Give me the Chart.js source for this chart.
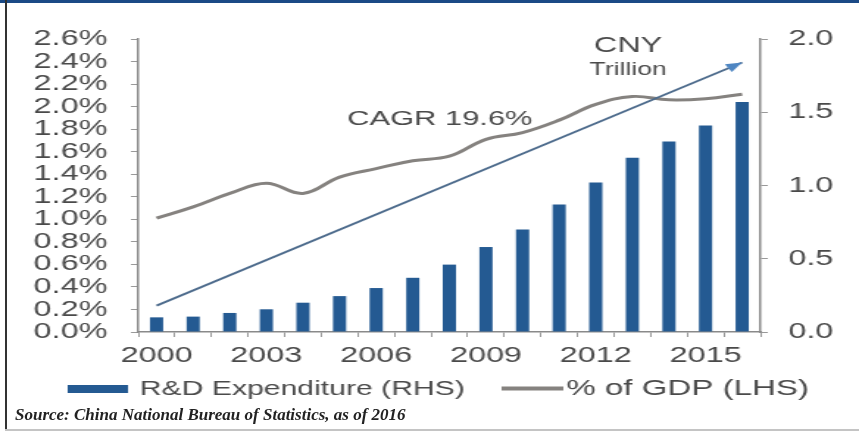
<!DOCTYPE html>
<html>
<head>
<meta charset="utf-8">
<script src="https://cdn.jsdelivr.net/npm/chart.js@4.4.0/dist/chart.umd.min.js"></script>
<style>
  html, body { margin: 0; padding: 0; background: #fff; width: 859px; height: 432px; overflow: hidden; }
  /* the source picture is stretched sideways, so the chart is drawn narrow and scaled */
  #wrap { position: absolute; left: 0; top: 0; width: 584px; height: 432px; transform: scaleX(1.4709); transform-origin: 0 0; }
  .band { position: absolute; left: 0; top: 0; width: 859px; height: 3px; background: #1b4a86; }
  .lborder { position: absolute; left: 5px; top: 0; width: 2px; height: 431px; background: #333; }
  .bborder { position: absolute; left: 5px; top: 429px; width: 854px; height: 2px; background: #c4c4c4; }
  #source { position: absolute; left: 15px; top: 406px; font: italic bold 17px/17px "Liberation Serif", "Times New Roman", serif; color: #222; white-space: nowrap; }
</style>
</head>
<body>
<div id="wrap"><canvas id="chart" width="584" height="432"></canvas></div>
<div class="band"></div>
<div class="lborder"></div>
<div class="bborder"></div>
<div id="source">Source: China National Bureau of Statistics, as of 2016</div>
<script>
const years     = ["2000","2001","2002","2003","2004","2005","2006","2007","2008","2009","2010","2011","2012","2013","2014","2015","2016"];
const rdSpend   = [0.10, 0.105, 0.13, 0.155, 0.20, 0.245, 0.30, 0.37, 0.46, 0.58, 0.70, 0.87, 1.02, 1.19, 1.30, 1.41, 1.57]; // CNY trillion (RHS)
const gdpShare  = [1.01, 1.11, 1.23, 1.32, 1.23, 1.375, 1.45, 1.52, 1.56, 1.71, 1.77, 1.88, 2.02, 2.09, 2.06, 2.07, 2.11]; // % of GDP (LHS)
const trendLine = [{ x: "2000", y: 0.18 }, { x: "2016", y: 1.84 }]; // CAGR arrow (RHS)
const leftTicks  = { min: 0, max: 2.6, step: 0.2 };
const rightTicks = { min: 0, max: 2.0, step: 0.5 };

const FONT = '"Liberation Sans", Arial, sans-serif';
const TXT  = "#4a4a4a";
const BAR  = "#245a92";
const GREY = "#85827f";

const extras = {
  id: "extras",
  afterDatasetsDraw(chart) {
    const ctx = chart.ctx;
    // arrow head on the CAGR line
    const pts = chart.getDatasetMeta(2).data;
    const a = pts[0], b = pts[pts.length - 1];
    const ang = Math.atan2(b.y - a.y, b.x - a.x), L = 11, W = 4.5;
    ctx.save();
    ctx.fillStyle = "#4f86c2";
    ctx.beginPath();
    ctx.moveTo(b.x, b.y);
    ctx.lineTo(b.x - L * Math.cos(ang) + W * Math.sin(ang), b.y - L * Math.sin(ang) - W * Math.cos(ang));
    ctx.lineTo(b.x - L * Math.cos(ang) - W * Math.sin(ang), b.y - L * Math.sin(ang) + W * Math.cos(ang));
    ctx.closePath(); ctx.fill();
    ctx.restore();
  },
  afterDraw(chart) {
    const ctx = chart.ctx;
    ctx.save();
    ctx.fillStyle = TXT;
    ctx.textBaseline = "alphabetic";
    ctx.textAlign = "center";
    ctx.font = "21px " + FONT; ctx.fillText("CAGR 19.6%", 299, 125);
    ctx.font = "22px " + FONT; ctx.fillText("CNY", 427, 52);
    ctx.font = "18px " + FONT; ctx.fillText("Trillion", 427, 75);
    // legend
    ctx.textAlign = "left";
    ctx.fillStyle = BAR; ctx.fillRect(46, 385, 41, 8);
    ctx.fillStyle = TXT;
    ctx.font = "20.5px " + FONT; ctx.fillText("R&D Expenditure (RHS)", 95, 395);
    ctx.strokeStyle = GREY; ctx.lineWidth = 4;
    ctx.beginPath(); ctx.moveTo(341, 388.5); ctx.lineTo(383, 388.5); ctx.stroke();
    ctx.font = "22.5px " + FONT; ctx.fillText("% of GDP (LHS)", 385, 395);
    ctx.restore();
  }
};

new Chart(document.getElementById("chart"), {
  type: "bar",
  data: {
    labels: years,
    datasets: [
      { type: "bar", label: "R&D Expenditure (RHS)", data: rdSpend, yAxisID: "y1", backgroundColor: BAR,
        barPercentage: 0.36, categoryPercentage: 1, order: 3 },
      { type: "line", label: "% of GDP (LHS)", data: gdpShare, yAxisID: "y", borderColor: GREY, borderWidth: 3,
        pointRadius: 0, tension: 0.4, fill: false, order: 2 },
      { type: "line", label: "CAGR", data: trendLine, yAxisID: "y1", borderColor: "#4d6b8c", borderWidth: 1.8,
        pointRadius: 0, spanGaps: true, fill: false, order: 1 },
    ],
  },
  options: {
    responsive: false, animation: false,
    layout: { padding: { top: 39, left: 0, right: 0, bottom: 0 } },
    plugins: { legend: { display: false }, tooltip: { enabled: false } },
    scales: {
      x: {
        offset: true,
        grid: { drawOnChartArea: false, offset: true, tickLength: 5, color: "#999" },
        border: { color: "#8a8a8a", width: 1.5 },
        ticks: { autoSkip: false, maxRotation: 0, padding: 6, color: TXT, font: { size: 22, family: FONT },
                 callback: (v, i) => i % 3 === 0 ? years[i] : "" },
        afterFit: s => { s.height = 100; },
      },
      y: {
        position: "left", min: leftTicks.min, max: leftTicks.max,
        grid: { drawOnChartArea: false, tickLength: 5, color: "#999" },
        border: { color: "#8a8a8a", width: 1.5 },
        ticks: { stepSize: leftTicks.step, autoSkip: false, padding: 16, color: TXT, font: { size: 22, family: FONT },
                 callback: v => v.toFixed(1) + "%" },
        afterFit: s => { s.width = 94; },
      },
      y1: {
        position: "right", min: rightTicks.min, max: rightTicks.max,
        grid: { drawOnChartArea: false, tickLength: 5, color: "#999" },
        border: { color: "#8a8a8a", width: 1.5 },
        ticks: { stepSize: rightTicks.step, autoSkip: false, padding: 14, color: TXT, font: { size: 22, family: FONT },
                 callback: v => v.toFixed(1) },
        afterFit: s => { s.width = 67; },
      },
    },
  },
  plugins: [extras],
});
</script>
</body>
</html>
